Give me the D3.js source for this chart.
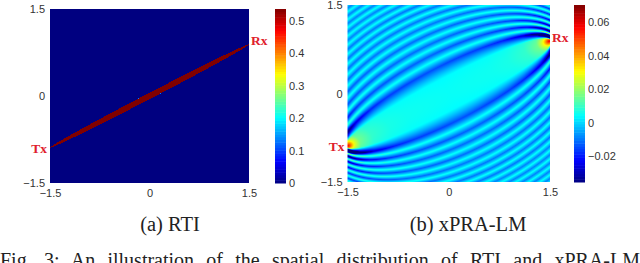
<!DOCTYPE html>
<html>
<head>
<meta charset="utf-8">
<script src="https://cdn.jsdelivr.net/npm/d3@7"></script>
<style>
html, body { margin: 0; padding: 0; background: #fff; overflow: hidden; }
svg { display: block; }
.tick text, .tlabel { font-family: "Liberation Sans", Arial, sans-serif; font-size: 11px; fill: #333; }
.cap { font-family: "Liberation Serif", "Times New Roman", serif; fill: #222; }
.ant { font-family: "Liberation Serif", serif; font-weight: bold; font-size: 13.5px; fill: #e0202c; }
</style>
</head>
<body>
<script>
var axisTicks = [-1.5, 0, 1.5];
var txPos = [-1.5, -0.89], rxPos = [1.5, 0.89];

// (a) RTI
var rtiExcess = [0, 0.0013, 0.00131];
var rtiValue = [0.54, 0.54, 0];
var rtiBarTicks = [0, 0.1, 0.2, 0.3, 0.4, 0.5];
var rtiRange = [0, 0.537];

// (b) xPRA-LM: value across the stripes, by excess path length
var zoneExcess = [0, 0.04, 0.12, 0.19, 0.26, 0.33, 0.40, 0.475, 0.55, 0.625, 0.70, 0.775, 0.85, 0.925, 1.0, 1.075, 1.15, 1.225, 1.30, 1.375, 1.45, 1.525, 1.60, 1.675, 1.75, 1.825, 1.90, 1.975, 2.05];
var zoneValue = [0.005, 0.004, -0.014, 0.005, -0.012, 0.005, -0.011, 0.005, -0.011, 0.005, -0.010, 0.005, -0.010, 0.005, -0.010, 0.005, -0.010, 0.005, -0.009, 0.005, -0.009, 0.005, -0.009, 0.005, -0.009, 0.005, -0.009, 0.005, -0.009];
// strength of the field against the distance to the nearest antenna
var gainDist = [0, 0.05, 0.1, 0.2, 0.4, 0.7, 1.0, 1.75];
var gainValue = [12, 9, 6, 3.2, 1.9, 1.35, 1.15, 1];
var praBarTicks = [-0.02, 0, 0.02, 0.04, 0.06];
var praRange = [-0.0352, 0.07];

var width = 640, height = 263;

var svg = d3.select("body").append("svg")
    .attr("width", width)
    .attr("height", height);

// matlab jet, 64 steps
var jetStops = ["#000080", "#0000ff", "#00ffff", "#ffff00", "#ff0000", "#800000"];
var jetPos = [0, 0.125, 0.375, 0.625, 0.875, 1];
var jet = d3.scaleLinear().domain(jetPos).range(jetStops).interpolate(d3.interpolateRgb).clamp(true);

function excess(x, y) {
    var r1 = Math.hypot(x - txPos[0], y - txPos[1]),
        r2 = Math.hypot(x - rxPos[0], y - rxPos[1]),
        base = Math.hypot(rxPos[0] - txPos[0], rxPos[1] - txPos[1]);
    return { d: r1 + r2 - base, near: Math.min(r1, r2) };
}

function drawPanel(p) {
    var xScale = d3.scaleLinear().domain([-1.5, 1.5]).range([p.x0, p.x1]),
        yScale = d3.scaleLinear().domain([-1.5, 1.5]).range([p.y1, p.y0]),
        colorScale = d3.scaleLinear().domain(p.range).range([0, 1]).clamp(true);

    // heat map drawn one pixel per cell
    var w = Math.round(p.x1 - p.x0), h = Math.round(p.y1 - p.y0);
    var canvas = document.createElement("canvas");
    canvas.width = w; canvas.height = h;
    var ctx = canvas.getContext("2d");
    for (var j = 0; j < h; j++) {
        for (var i = 0; i < w; i++) {
            var e = excess(xScale.invert(p.x0 + i + 0.5), yScale.invert(p.y0 + j + 0.5));
            ctx.fillStyle = jet(colorScale(p.field(e)));
            ctx.fillRect(i, j, 1, 1);
        }
    }
    svg.append("image")
        .attr("x", p.x0).attr("y", p.y0)
        .attr("width", p.x1 - p.x0).attr("height", p.y1 - p.y0)
        .attr("preserveAspectRatio", "none")
        .style("filter", "blur(0.5px)")
        .attr("href", canvas.toDataURL());

    var xAxis = d3.axisBottom(xScale).tickValues(axisTicks).tickSize(0).tickPadding(6).tickFormat(d3.format("")),
        yAxis = d3.axisLeft(yScale).tickValues(axisTicks).tickSize(0).tickPadding(5).tickFormat(d3.format(""));

    svg.append("g").attr("transform", "translate(0," + p.y1 + ")").call(xAxis)
        .call(function (g) { g.select(".domain").remove(); });
    svg.append("g").attr("transform", "translate(" + p.x0 + ",0)").call(yAxis)
        .call(function (g) { g.select(".domain").remove(); });

    // colour bar
    var barScale = d3.scaleLinear().domain(p.range).range([p.y1, p.y0]);
    var steps = d3.range(64);
    var stepH = (p.y1 - p.y0) / 64;
    svg.append("g").selectAll("rect")
        .data(steps)
        .enter().append("rect")
        .attr("x", p.bar0)
        .attr("width", p.bar1 - p.bar0)
        .attr("y", function (d) { return p.y1 - (d + 1) * stepH; })
        .attr("height", stepH + 0.5)
        .attr("fill", function (d) { return jet((d + 0.5) / 64); });

    var barAxis = d3.axisRight(barScale).tickValues(p.barTicks).tickSize(0).tickPadding(3).tickFormat(d3.format(""));
    svg.append("g").attr("transform", "translate(" + p.bar1 + ",0)").call(barAxis)
        .call(function (g) { g.select(".domain").remove(); });

    svg.append("text").attr("class", "ant").attr("text-anchor", "end")
        .attr("x", p.x0 - 3).attr("y", yScale(txPos[1]) + 5).text("Tx");
    svg.append("text").attr("class", "ant")
        .attr("x", p.x1 + 2).attr("y", yScale(rxPos[1]) + 1).text("Rx");

    svg.append("text").attr("class", "cap").attr("text-anchor", "middle")
        .attr("x", p.capX).attr("y", 231).style("font-size", "20.5px").text(p.caption);
}

var rtiLookup = d3.scaleLinear().domain(rtiExcess).range(rtiValue).clamp(true);
var zoneLookup = d3.scaleLinear().domain(zoneExcess).range(zoneValue).clamp(true);
var gainLookup = d3.scaleLinear().domain(gainDist).range(gainValue).clamp(true);

drawPanel({
    x0: 50, x1: 249, y0: 9, y1: 183,
    bar0: 275, bar1: 286,
    range: rtiRange, barTicks: rtiBarTicks,
    capX: 170, caption: "(a) RTI",
    field: function (e) { return rtiLookup(e.d); }
});

drawPanel({
    x0: 347.5, x1: 550, y0: 5, y1: 182,
    bar0: 574, bar1: 585,
    range: praRange, barTicks: praBarTicks,
    capX: 468, caption: "(b) xPRA-LM",
    field: function (e) { return zoneLookup(e.d) * gainLookup(e.near); }
});

// figure caption, cut by the bottom of the picture as in the reference, justified to the full width
var fig = svg.append("text").attr("class", "cap")
    .attr("x", 0).attr("y", 267)
    .style("font-size", "20px")
    .text("Fig. 3: An illustration of the spatial distribution of RTI and xPRA-LM");
var figText = fig.text();
var gaps = figText.split(" ").length - 1;
fig.style("word-spacing", ((640 - fig.node().getComputedTextLength()) / gaps) + "px");
</script>
</body>
</html>
